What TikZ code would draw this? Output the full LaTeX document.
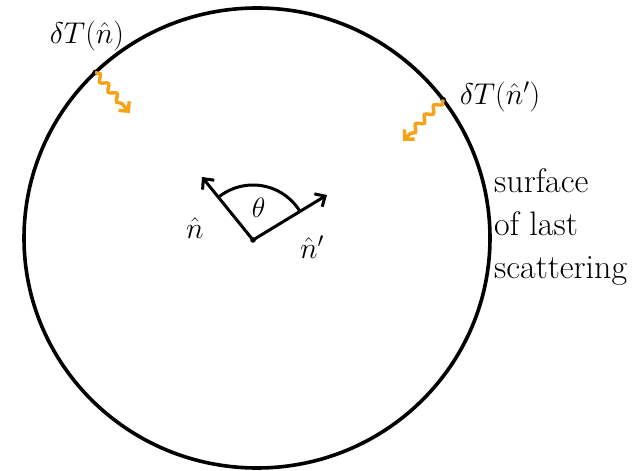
\RequirePackage{fix-cm}
\documentclass[tikz,border=0pt]{standalone}
\usepackage{amsmath}
\usetikzlibrary{arrows.meta,calc,angles,quotes,decorations.pathmorphing}
\definecolor{cphot}{RGB}{247,163,24}
\tikzset{
  surf/.style={line width=3.6pt},
  vec/.style={line width=3pt,-{Straight Barb[length=8pt,width=15pt]}},
  photon/.style={cphot,line width=3.4pt,decorate,
    decoration={snake,amplitude=3pt,segment length=13pt,post length=8pt},
    -{Straight Barb[length=7pt,width=14pt]}},
  lab/.style={font=\fontsize{30}{36}\selectfont},
}
\begin{document}
\begin{tikzpicture}[x=1pt,y=1pt]
\useasboundingbox (0,0) rectangle (635,471);
\coordinate (o) at (257,233);
\draw[surf] (o) ellipse [x radius=233, y radius=230];
% where the two photons start
\coordinate (sA) at ($(o)+(134:233 and 230)$);
\coordinate (sB) at ($(o)+(37:233 and 230)$);
\fill (sA) circle (2.8);
\fill (sB) circle (2.8);
\coordinate (eA) at (130,358);
\coordinate (eB) at (403,330);
\draw[photon] (sA) -- (eA);
\draw[photon] (sB) -- (eB);
\node[lab] (tA) at (87,435) {$\delta T(\hat n)$};
\node[lab] (tB) at (500,374) {$\delta T(\hat n')$};
% observer and the two directions
\coordinate (p) at (253,231);
\coordinate (nA) at (202,294);
\coordinate (nB) at (327,276);
\draw[vec] (p) -- (nA);
\draw[vec] (p) -- (nB);
\pic["$\theta$", draw, line width=3pt, angle radius=55pt, angle eccentricity=0.6,
  pic text options={font=\fontsize{28}{32}\selectfont}] {angle=nB--p--nA};
\fill (p) circle (2.8);
\node[lab] (lA) at (195,243) {$\hat n$};
\node[lab] (lB) at (312,224) {$\hat n'$};
\node[font=\fontsize{34}{43}\selectfont, anchor=north west, align=left, inner sep=0pt]
  (sls) at (494,303) {surface\\of last\\scattering};
\end{tikzpicture}
\end{document}
